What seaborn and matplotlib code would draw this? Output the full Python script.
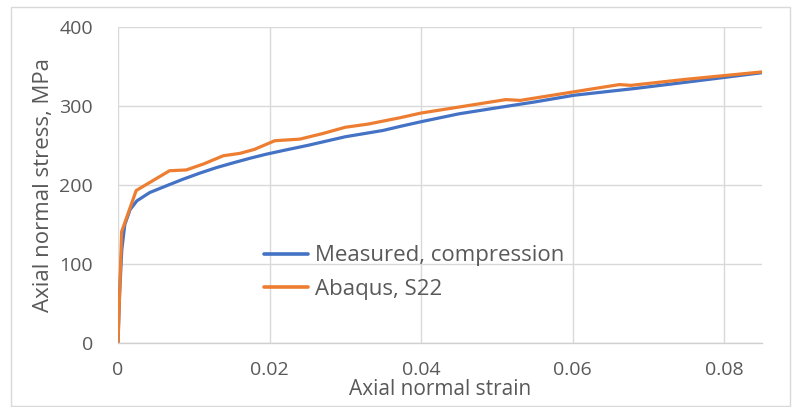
import matplotlib
matplotlib.use("Agg")
import matplotlib.pyplot as plt
import seaborn as sns
import pandas as pd
from matplotlib.patches import Rectangle

# Measured, compression (blue)
meas_strain = [0, 0.0002, 0.0005, 0.0009, 0.0016, 0.0025, 0.0042, 0.0064, 0.0085,
               0.0108, 0.013, 0.0152, 0.0175, 0.0196, 0.022, 0.025, 0.030, 0.035,
               0.0372, 0.040, 0.045, 0.0496, 0.055, 0.0602, 0.0682, 0.075, 0.080, 0.085]
meas_stress = [0, 60, 118, 150, 169, 180, 190.5, 199, 207,
               215, 222, 228, 234, 239, 244, 250, 261, 269,
               274, 280, 290, 297, 305, 313.5, 322, 330, 336, 342]

# Abaqus, S22 (orange)
abq_strain = [0, 0.00048, 0.0024, 0.0068, 0.0090, 0.0113, 0.0139, 0.0161, 0.018,
              0.0207, 0.024, 0.027, 0.030, 0.033, 0.0372, 0.040, 0.0443, 0.0512, 0.0531,
              0.0629, 0.0662, 0.0677, 0.0748, 0.085]
abq_stress = [0, 141, 193, 218, 219, 226.6, 237, 240, 245,
              256, 258, 265, 273, 277, 285, 291, 297.5, 308, 307,
              322, 327, 326, 333.5, 343]

series_names = ["Measured, compression", "Abaqus, S22"]
colors = ["#4472C4", "#ED7D31"]
x_ticks = [0, 0.02, 0.04, 0.06, 0.08]
x_tick_labels = ["0", "0.02", "0.04", "0.06", "0.08"]
y_ticks = [0, 100, 200, 300, 400]

df = pd.concat([
    pd.DataFrame({"strain": meas_strain, "stress": meas_stress, "series": series_names[0]}),
    pd.DataFrame({"strain": abq_strain, "stress": abq_stress, "series": series_names[1]}),
], ignore_index=True)

sns.set_style("white")
plt.rcParams["font.family"] = ["Open Sans", "DejaVu Sans"]

fig = plt.figure(figsize=(7.92, 4.07), dpi=100)
ax = fig.add_axes([0.149, 0.157, 0.813, 0.777])

sns.lineplot(data=df, x="strain", y="stress", hue="series", palette=colors,
             hue_order=series_names, sort=False, estimator=None, linewidth=2.3, ax=ax)

ax.set_xlim(0, 0.085)
ax.set_ylim(0, 400)
ax.set_xticks(x_ticks)
ax.set_xticklabels(x_tick_labels)
ax.set_yticks(y_ticks)
ax.grid(True, color="#D9D9D9", linewidth=1.0)
ax.set_axisbelow(True)
for s in ["top", "right", "left"]:
    ax.spines[s].set_visible(False)
ax.spines["bottom"].set_color("#D0D0D0")
ax.spines["bottom"].set_linewidth(1.0)
ax.tick_params(axis="both", length=0, labelsize=14, colors="#595959")
ax.tick_params(axis="y", pad=18)
ax.tick_params(axis="x", pad=13)
ax.set_xlabel("Axial normal strain", fontsize=15, color="#595959", labelpad=0)
ax.set_ylabel("Axial normal stress, MPa", fontsize=16, color="#595959", labelpad=4)

leg = ax.legend(loc="upper left", bbox_to_anchor=(0.196, 0.372), frameon=False,
                fontsize=16, handlelength=1.95, handletextpad=0.35, labelspacing=0.55,
                labelcolor="#595959")
for line in leg.get_lines():
    line.set_linewidth(2.6)

fig.patches.append(Rectangle((11/792, 1/407), 779/792, 399/407, transform=fig.transFigure,
                             fill=False, edgecolor="#D9D9D9", linewidth=1.0))

fig.savefig("out.png", dpi=100, facecolor="white")
